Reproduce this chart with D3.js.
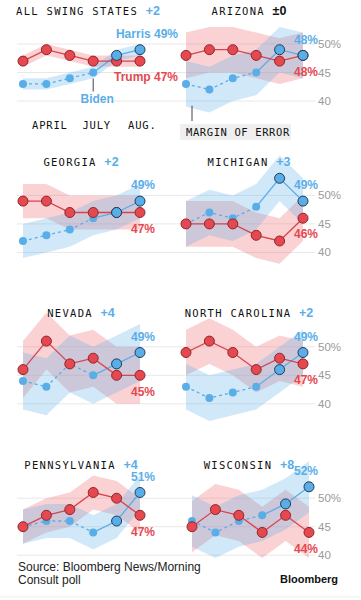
<!DOCTYPE html>
<html>
<head>
<meta charset="utf-8">
<script src="https://cdn.jsdelivr.net/npm/d3@7"></script>
<style>
  body { margin: 0; background: #fff; }
  svg { display: block; }
</style>
</head>
<body>
<svg id="svg" width="361" height="600"></svg>
<script>
const w = 361;
const h = 600;

// Six polls per state; the first four are Biden, the last two Harris
const states = ["ALL SWING STATES", "ARIZONA", "GEORGIA", "MICHIGAN", "NEVADA", "NORTH CAROLINA", "PENNSYLVANIA", "WISCONSIN"];
const demVals = [
  [43, 43, 44, 45, 48, 49],
  [43, 42, 44, 45, 49, 48],
  [42, 43, 44, 46, 47, 49],
  [45, 47, 46, 48, 53, 49],
  [44, 43, 47, 45, 47, 49],
  [43, 41, 42, 43, 46, 49],
  [45, 46, 46, 44, 46, 51],
  [46, 44, 46, 47, 49, 52],
];
const repVals = [
  [47, 49, 48, 47, 47, 47],
  [48, 49, 49, 48, 47, 48],
  [49, 49, 47, 47, 47, 47],
  [45, 45, 45, 43, 42, 46],
  [46, 51, 47, 48, 45, 45],
  [49, 51, 49, 46, 48, 47],
  [45, 47, 48, 51, 50, 47],
  [45, 48, 47, 44, 47, 44],
];
const marginOfError = [1, 4, 3, 4, 5, 4, 3, 4.5];
const bidenPolls = 4;

const monthLabels = ["APRIL", "JULY", "AUG."];
const monthAt = [1.15, 3.15, 5.1];
const yTicks = [50, 45, 40];
const yTickLabels = ["50%", "45", "40"];

const blue = "#5aaee8";
const red = "#e5484f";
const mono = "'DejaVu Sans Mono', monospace";
const sans = "'Liberation Sans', Arial, Helvetica, sans-serif";

let svg = d3.select("#svg");

const colX = [[23, 140], [186, 303]];
const colGrid = [[17, 180], [180, 315]];
const titleX = [81, 249];
const rowTop = 44;
const rowStep = 151.4;
const rowSpan = 57;

states.forEach((name, i) => {
  const col = i % 2;
  const row = Math.floor(i / 2);
  const shift = name === "WISCONSIN" ? 6 : 0;
  const top = rowTop + row * rowStep;

  let xScale = d3.scaleLinear([0, 5], [colX[col][0] + shift, colX[col][1] + shift]);
  let yScale = d3.scaleLinear([40, 50], [top + rowSpan, top]);

  const dem = demVals[i];
  const rep = repVals[i];
  const moe = marginOfError[i];
  const g = svg.append("g");

  // Gridlines
  g.selectAll("line.grid")
    .data(yTicks)
    .join("line")
    .attr("x1", colGrid[col][0])
    .attr("x2", colGrid[col][1])
    .attr("y1", (d) => yScale(d))
    .attr("y2", (d) => yScale(d))
    .attr("stroke", "#e8e8e8")
    .attr("stroke-width", 1);

  if (col === 1) {
    g.selectAll("text.tick")
      .data(yTicks)
      .join("text")
      .attr("x", 318)
      .attr("y", (d) => yScale(d))
      .attr("dy", "0.35em")
      .attr("font-family", sans)
      .attr("font-size", 11.5)
      .attr("fill", "#9a9a9a")
      .text((d, k) => yTickLabels[k]);
  }

  // Margin of error bands
  const band = d3
    .area()
    .x((d, k) => xScale(k))
    .y0((d) => yScale(d - moe))
    .y1((d) => yScale(d + moe));

  g.append("path").datum(rep).attr("d", band).attr("fill", "#f06a72").attr("fill-opacity", 0.3);
  g.append("path").datum(dem).attr("d", band).attr("fill", blue).attr("fill-opacity", 0.28);

  let lineFunc = d3
    .line()
    .x((d) => xScale(d[0]))
    .y((d) => yScale(d[1]));

  const demPts = dem.map((v, k) => [k, v]);
  const repPts = rep.map((v, k) => [k, v]);

  // Biden dashed, Harris solid
  g.append("path")
    .datum(demPts.slice(0, bidenPolls))
    .attr("d", lineFunc)
    .attr("fill", "none")
    .attr("stroke", blue)
    .attr("stroke-width", 1.3)
    .attr("stroke-dasharray", "3,3");
  g.append("path")
    .datum(demPts.slice(bidenPolls - 1))
    .attr("d", lineFunc)
    .attr("fill", "none")
    .attr("stroke", blue)
    .attr("stroke-width", 1.3);
  g.append("path")
    .datum(repPts)
    .attr("d", lineFunc)
    .attr("fill", "none")
    .attr("stroke", "#d9434b")
    .attr("stroke-width", 1.3);

  g.selectAll("circle.biden")
    .data(demPts.slice(0, bidenPolls))
    .join("circle")
    .attr("cx", (d) => xScale(d[0]))
    .attr("cy", (d) => yScale(d[1]))
    .attr("r", 4)
    .attr("fill", blue);

  g.selectAll("circle.rep")
    .data(repPts)
    .join("circle")
    .attr("cx", (d) => xScale(d[0]))
    .attr("cy", (d) => yScale(d[1]))
    .attr("r", 5)
    .attr("fill", red)
    .attr("stroke", "#8e262c")
    .attr("stroke-width", 1);

  g.selectAll("circle.harris")
    .data(demPts.slice(bidenPolls))
    .join("circle")
    .attr("cx", (d) => xScale(d[0]))
    .attr("cy", (d) => yScale(d[1]))
    .attr("r", 5)
    .attr("fill", blue)
    .attr("stroke", "#1f3b57")
    .attr("stroke-width", 1);

  // Title with lead
  const lead = dem[5] - rep[5];
  const title = g
    .append("text")
    .attr("x", i === 0 ? 88 : titleX[col])
    .attr("y", top - 35)
    .attr("dy", "0.35em")
    .attr("text-anchor", "middle");
  title
    .append("tspan")
    .attr("font-family", mono)
    .attr("font-size", 10.5)
    .attr("letter-spacing", 1.3)
    .attr("fill", "#111")
    .text(name + " ");
  title
    .append("tspan")
    .attr("font-family", sans)
    .attr("font-weight", "bold")
    .attr("font-size", 12.5)
    .attr("fill", lead > 0 ? blue : "#111")
    .text(lead > 0 ? "+" + lead : lead === 0 ? "±0" : "" + lead);

  // End-value labels
  const labelX = i === 0 ? 178 : colX[col][1] + 15;
  g.append("text")
    .attr("x", labelX)
    .attr("y", yScale(dem[5]) - 16)
    .attr("dy", "0.35em")
    .attr("text-anchor", "end")
    .attr("font-family", sans)
    .attr("font-weight", "bold")
    .attr("font-size", 12)
    .attr("fill", blue)
    .text((i === 0 ? "Harris " : "") + dem[5] + "%");
  g.append("text")
    .attr("x", labelX)
    .attr("y", yScale(rep[5]) + 16)
    .attr("dy", "0.35em")
    .attr("text-anchor", "end")
    .attr("font-family", sans)
    .attr("font-weight", "bold")
    .attr("font-size", 12)
    .attr("fill", red)
    .text((i === 0 ? "Trump " : "") + rep[5] + "%");

  // Annotations on the first row
  if (i === 0) {
    const bx = xScale(bidenPolls - 1);
    g.append("line")
      .attr("x1", bx).attr("x2", bx)
      .attr("y1", yScale(dem[bidenPolls - 1]) + 6)
      .attr("y2", yScale(dem[bidenPolls - 1]) + 19)
      .attr("stroke", "#444")
      .attr("stroke-width", 1);
    g.append("rect")
      .attr("x", bx - 12).attr("y", yScale(40) - 8)
      .attr("width", 32).attr("height", 14)
      .attr("fill", "#fff");
    g.append("text")
      .attr("x", bx + 4)
      .attr("y", yScale(40) - 2)
      .attr("dy", "0.35em")
      .attr("text-anchor", "middle")
      .attr("font-family", sans)
      .attr("font-weight", "bold")
      .attr("font-size", 12)
      .attr("fill", blue)
      .text("Biden");

    g.selectAll("text.month")
      .data(monthLabels)
      .join("text")
      .attr("x", (d, k) => xScale(monthAt[k]))
      .attr("y", top + 81)
      .attr("dy", "0.35em")
      .attr("text-anchor", "middle")
      .attr("font-family", mono)
      .attr("font-size", 10.5)
      .attr("letter-spacing", 0.8)
      .attr("fill", "#111")
      .text((d) => d);
  }

  if (i === 1) {
    const mx = xScale(0) + 6;
    g.append("line")
      .attr("x1", mx).attr("x2", mx)
      .attr("y1", yScale(dem[0] - moe) - 1)
      .attr("y2", top + 77)
      .attr("stroke", "#444")
      .attr("stroke-width", 1);
    g.append("rect")
      .attr("x", 180).attr("y", top + 80)
      .attr("width", 111).attr("height", 16)
      .attr("fill", "#efefef");
    g.append("text")
      .attr("x", 186)
      .attr("y", top + 88.5)
      .attr("dy", "0.35em")
      .attr("font-family", mono)
      .attr("font-size", 10.5)
      .attr("letter-spacing", 0.6)
      .attr("fill", "#111")
      .text("MARGIN OF ERROR");
  }
});

// Footer
svg.append("text")
  .attr("x", 18).attr("y", 567).attr("dy", "0.35em")
  .attr("font-family", sans).attr("font-size", 12).attr("fill", "#222")
  .text("Source: Bloomberg News/Morning");
svg.append("text")
  .attr("x", 18).attr("y", 580).attr("dy", "0.35em")
  .attr("font-family", sans).attr("font-size", 12).attr("fill", "#222")
  .text("Consult poll");
svg.append("text")
  .attr("x", 338).attr("y", 579).attr("dy", "0.35em")
  .attr("text-anchor", "end")
  .attr("font-family", sans).attr("font-weight", "bold").attr("font-size", 11).attr("fill", "#111")
  .text("Bloomberg");
svg.append("line")
  .attr("x1", 0).attr("x2", w).attr("y1", h - 3).attr("y2", h - 3)
  .attr("stroke", "#eee");
</script>
</body>
</html>
